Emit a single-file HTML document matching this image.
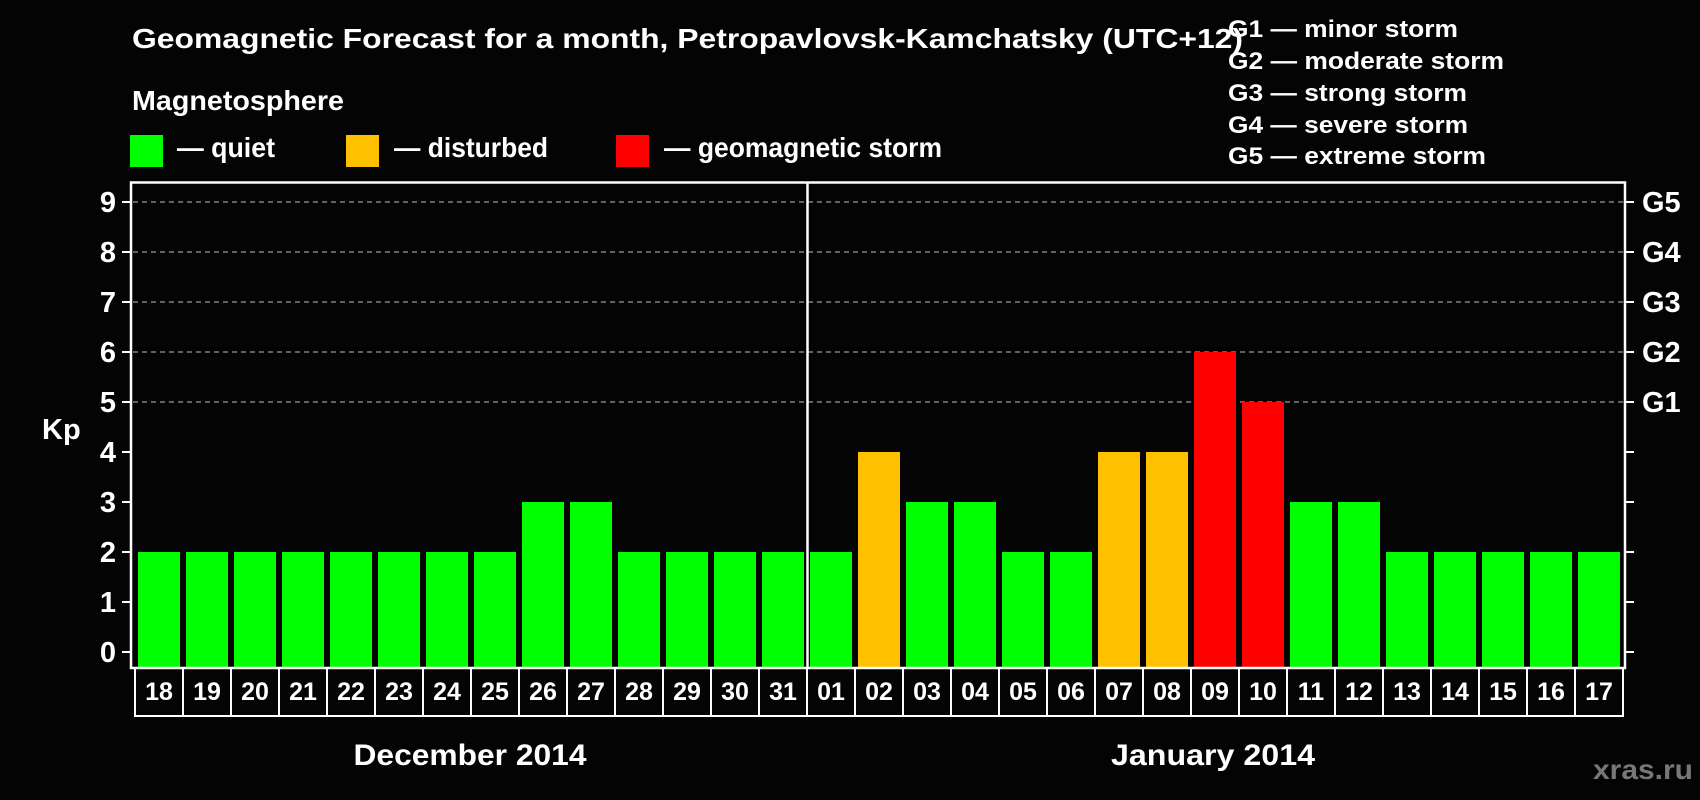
<!DOCTYPE html>
<html><head><meta charset="utf-8"><style>
html,body{margin:0;padding:0;background:#040404;}
svg{display:block;}
text{font-family:"Liberation Sans Narrow","Liberation Sans",sans-serif;font-weight:bold;fill:#fff;}
.w{font-family:"Liberation Sans",sans-serif;}
</style></head><body>
<svg id="chart" width="1700" height="800" viewBox="0 0 1700 800" xmlns="http://www.w3.org/2000/svg">
<rect width="1700" height="800" fill="#040404"/>
<text x="132" y="48" font-size="28" textLength="1111" lengthAdjust="spacingAndGlyphs">Geomagnetic Forecast for a month, Petropavlovsk-Kamchatsky (UTC+12)</text>
<text x="132" y="110" font-size="28" textLength="212" lengthAdjust="spacingAndGlyphs">Magnetosphere</text>
<g>
<rect x="130" y="135" width="33" height="32" fill="#00ff00"/>
<text x="177" y="157" font-size="28" textLength="98" lengthAdjust="spacingAndGlyphs">— quiet</text></g>
<g>
<rect x="346" y="135" width="33" height="32" fill="#ffc000"/>
<text x="394" y="157" font-size="28" textLength="154" lengthAdjust="spacingAndGlyphs">— disturbed</text></g>
<g>
<rect x="616" y="135" width="33" height="32" fill="#ff0000"/>
<text x="664" y="157" font-size="28" textLength="278" lengthAdjust="spacingAndGlyphs">— geomagnetic storm</text></g>
<g font-size="24">
<text class="w" x="1228" y="37" textLength="230" lengthAdjust="spacingAndGlyphs">G1 — minor storm</text>
<text class="w" x="1228" y="69" textLength="276" lengthAdjust="spacingAndGlyphs">G2 — moderate storm</text>
<text class="w" x="1228" y="101" textLength="239" lengthAdjust="spacingAndGlyphs">G3 — strong storm</text>
<text class="w" x="1228" y="133" textLength="240" lengthAdjust="spacingAndGlyphs">G4 — severe storm</text>
<text class="w" x="1228" y="164" textLength="258" lengthAdjust="spacingAndGlyphs">G5 — extreme storm</text>
</g>
<g id="plot"></g>
<text x="470" y="765" font-size="30" text-anchor="middle" textLength="233" lengthAdjust="spacingAndGlyphs">December 2014</text>
<text x="1213" y="765" font-size="30" text-anchor="middle" textLength="204" lengthAdjust="spacingAndGlyphs">January 2014</text>
<text x="1693" y="779" font-size="28" text-anchor="end" style="fill:#777" textLength="100" lengthAdjust="spacingAndGlyphs">xras.ru</text>
</svg>
<script>
const days = ["18","19","20","21","22","23","24","25","26","27","28","29","30","31","01","02","03","04","05","06","07","08","09","10","11","12","13","14","15","16","17"];
const kp = [2,2,2,2,2,2,2,2,3,3,2,2,2,2,2,4,3,3,2,2,4,4,6,5,3,3,2,2,2,2,2];
const yTicks = [0,1,2,3,4,5,6,7,8,9];
const gLabels = ["G1","G2","G3","G4","G5"];
const gLevels = [5,6,7,8,9];
const monthSplit = 14;

const NS="http://www.w3.org/2000/svg";
const g=document.getElementById('plot');
const L=131,R=1625,T=182.5,B=668,Y0=652,UNIT=50,PITCH=48,BOX0=135;
const y=v=>Y0-v*UNIT;
const xBar=i=>138+i*PITCH;
function mk(t,a){const e=document.createElementNS(NS,t);for(const k in a)e.setAttribute(k,a[k]);g.appendChild(e);return e;}
// gridlines
gLevels.forEach(v=>{const e=mk('line',{x1:L+2,x2:R-2,y1:y(v),y2:y(v),stroke:'#999','stroke-width':1.3,'stroke-dasharray':'5 4'});

});
// bars
kp.forEach((v,i)=>{const c=v>=5?'#ff0000':(v>=4?'#ffc000':'#00ff00');
const e=mk('rect',{x:xBar(i),y:y(v),width:42,height:B-1-y(v),fill:c});

});
// frame
const fr=mk('rect',{x:L,y:T,width:R-L,height:B-T,fill:'none',stroke:'#fff','stroke-width':2.5});


const dv=mk('line',{x1:BOX0+monthSplit*PITCH+0.5+0,x2:BOX0+monthSplit*PITCH+0.5,y1:T,y2:B,stroke:'#fff','stroke-width':2.5});


// y ticks
yTicks.forEach(v=>{
const t=mk('line',{x1:122,x2:L,y1:y(v),y2:y(v),stroke:'#fff','stroke-width':2});


const t2=mk('line',{x1:R,x2:1634,y1:y(v),y2:y(v),stroke:'#fff','stroke-width':2});


const l=mk('text',{x:116,y:y(v)+10,'font-size':29,'text-anchor':'end',class:'w'});l.textContent=v;

});
gLabels.forEach((s,i)=>{const l=mk('text',{x:1642,y:y(gLevels[i])+10,'font-size':29,class:'w'});l.textContent=s;

});
const kpl=mk('text',{x:42,y:439,'font-size':29,class:'w'});kpl.textContent='Kp';


// date boxes
days.forEach((d,i)=>{const bx=BOX0+i*PITCH;
const r=mk('rect',{x:bx,y:B,width:PITCH,height:48,fill:'none',stroke:'#fff','stroke-width':2});


const t=mk('text',{x:bx+PITCH/2,y:700,'font-size':25,'text-anchor':'middle'});t.textContent=d;

});
</script>
</body></html>
